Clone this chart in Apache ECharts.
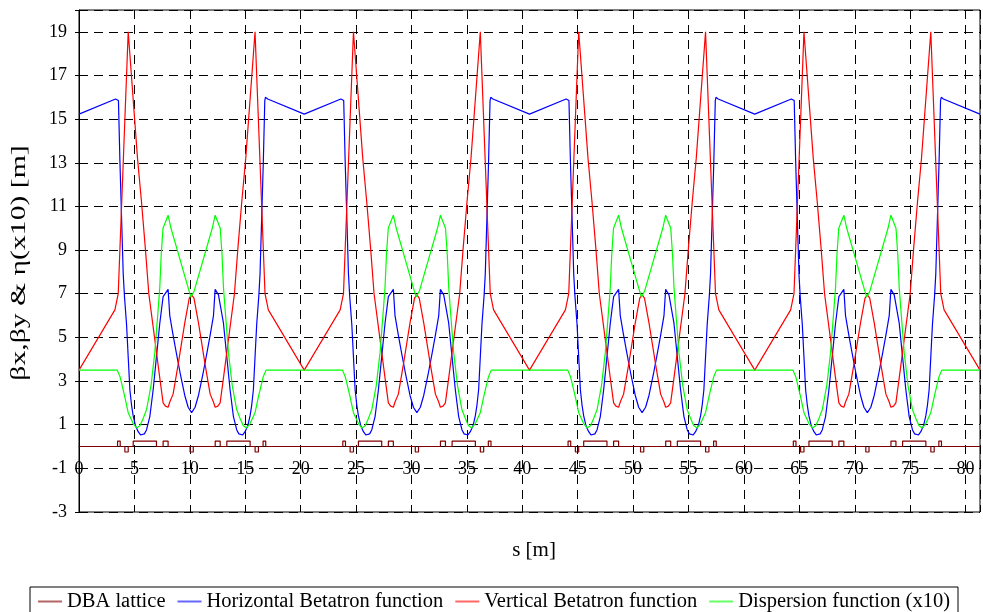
<!DOCTYPE html>
<html>
<head>
<meta charset="utf-8">
<script src="https://cdn.jsdelivr.net/npm/echarts@6/dist/echarts.min.js"></script>
<style>
  html, body { margin: 0; padding: 0; background: #fff; }
  #chart { width: 983px; height: 612px; }
</style>
</head>
<body>
<div id="chart"></div>
<script>
// Ring made of four identical DBA superperiods; optics listed for one superperiod (local s, m)
const CELL_STARTS = [0, 20.325, 40.65, 60.975];
const RING_LENGTH = 81.3;

// Horizontal betatron function
const BETA_X_S = [0, 3.30, 3.44, 3.50, 3.56, 3.69, 3.84, 3.99, 4.10, 4.29, 4.44, 4.59, 4.74, 4.89, 5.10,
  5.34, 5.55, 5.72, 5.90, 6.09, 6.39, 6.69, 6.99, 7.29, 7.59, 7.74, 8.04, 8.19, 8.49, 8.79, 9.15, 9.54, 9.85, 10.16,
  10.475, 10.785, 11.175, 11.535, 11.835, 12.135, 12.285, 12.585, 12.735, 13.035, 13.335, 13.635, 13.935, 14.235,
  14.425, 14.605, 14.775, 14.985, 15.225, 15.435, 15.585, 15.735, 15.885, 16.035, 16.225, 16.335, 16.485, 16.635,
  16.765, 16.825, 16.885, 17.025, 20.325];
const BETA_X = [15.23, 15.92, 16.0, 16.0, 15.85, 13.1, 10.5, 7.9, 6.9, 5.6, 4.1, 2.6, 1.9, 1.4, 0.95,
  0.68, 0.53, 0.5, 0.58, 0.76, 1.37, 2.59, 4.12, 5.65, 6.87, 6.95, 7.2, 6.0, 5.1, 4.27, 3.3, 2.35, 1.8, 1.55,
  1.8, 2.35, 3.3, 4.27, 5.1, 6.0, 7.2, 6.95, 6.87, 5.65, 4.12, 2.59, 1.37, 0.76,
  0.58, 0.5, 0.53, 0.68, 0.95, 1.4, 1.9, 2.6, 4.1, 5.6, 6.9, 7.9, 10.5, 13.1,
  15.85, 16.0, 16.0, 15.92, 15.23];

// Vertical betatron function
const BETA_Y_S = [0, 3.24, 3.54, 4.44, 5.28, 5.64, 6.0, 6.3, 6.84, 7.30, 7.59, 7.80, 8.04, 8.20, 8.49, 8.94,
  9.54, 9.95, 10.1625, 10.375, 10.785, 11.385, 11.835, 12.125, 12.285, 12.525, 12.735, 13.025, 13.485, 14.025,
  14.325, 14.685, 15.045, 15.885, 16.785, 17.085, 20.325];
const BETA_Y = [3.5, 6.26, 7.0, 19.0, 13.2, 11.2, 9.0, 7.0, 4.9, 3.1, 2.0, 1.85, 1.8, 2.05, 2.4, 3.74,
  5.65, 6.8, 6.95, 6.8, 5.65, 3.74, 2.4, 2.05, 1.8, 1.85, 2.0, 3.1, 4.9, 7.0,
  9.0, 11.2, 13.2, 19.0, 7.0, 6.26, 3.5];

// Dispersion function, scaled by 10
const ETA_S = [0, 3.45, 3.70, 4.10, 4.44, 4.89, 5.20, 5.50, 5.80, 6.10, 6.50, 6.84, 7.10, 7.29, 7.42, 7.58,
  8.04, 8.30, 9.95, 10.10, 10.225, 10.375, 12.025, 12.285, 12.745, 12.905, 13.035, 13.225, 13.485, 13.825,
  14.225, 14.525, 14.825, 15.125, 15.435, 15.885, 16.225, 16.625, 16.875, 20.325];
const ETA_X10 = [3.5, 3.5, 3.2, 2.35, 1.55, 1.05, 0.85, 0.95, 1.3, 1.7, 2.8, 4.3, 6.0, 7.3, 8.8, 10.0,
  10.6, 10.0, 7.1, 6.85, 6.85, 7.1, 10.0, 10.6, 10.0, 8.8, 7.3, 6.0, 4.3, 2.8,
  1.7, 1.3, 0.95, 0.85, 1.05, 1.55, 2.35, 3.2, 3.5, 3.5];

// Magnet layout of a superperiod: element start, end and symbol height (+ dipole / focusing, - defocusing)
const ELEMENT_START = [3.48, 4.14, 4.89, 7.59, 10.02, 12.29, 13.34, 15.89, 16.61];
const ELEMENT_END = [3.72, 4.44, 6.99, 8.04, 10.31, 12.74, 15.44, 16.19, 16.85];
const ELEMENT_HEIGHT = [0.25, -0.25, 0.25, 0.25, -0.25, 0.25, 0.25, -0.25, 0.25];

const SERIES_NAMES = ['DBA lattice', 'Horizontal Betatron function', 'Vertical Betatron function', 'Dispersion function (x10)'];
const SERIES_COLORS = ['#800000', '#0000ff', '#ff0000', '#00ff00'];

const Y_MIN = -3, Y_MAX = 20, Y_STEP = 2;
const Y_TICKS = [-3, -1, 1, 3, 5, 7, 9, 11, 13, 15, 17, 19];
const X_TICK_STEP = 5;

function ringPoints(sLocal, values) {
  const pts = [];
  CELL_STARTS.forEach(function (start) {
    sLocal.forEach(function (s, i) { pts.push([+(start + s).toFixed(4), values[i]]); });
  });
  return pts;
}

function latticePoints() {
  const pts = [[0, 0]];
  CELL_STARTS.forEach(function (start) {
    ELEMENT_START.forEach(function (a, i) {
      const s0 = +(start + a).toFixed(4), s1 = +(start + ELEMENT_END[i]).toFixed(4), h = ELEMENT_HEIGHT[i];
      pts.push([s0, 0], [s0, h], [s1, h], [s1, 0]);
    });
  });
  pts.push([RING_LENGTH, 0]);
  return pts;
}

const FONT = 'Liberation Serif';
const GRID = { left: 79, top: 10, right: 1, bottom: 100 };
const PLOT_HEIGHT = 612 - GRID.top - GRID.bottom;
// the s axis crosses the vertical axis at zero
const X_AXIS_LIFT = PLOT_HEIGHT * (0 - Y_MIN) / (Y_MAX - Y_MIN);

const chart = echarts.init(document.getElementById('chart'), null, { renderer: 'canvas' });

const dataSets = [latticePoints(), ringPoints(BETA_X_S, BETA_X), ringPoints(BETA_Y_S, BETA_Y), ringPoints(ETA_S, ETA_X10)];

chart.setOption({
  animation: false,
  backgroundColor: '#fff',
  grid: Object.assign({ show: true, borderColor: '#000', borderWidth: 1, backgroundColor: 'transparent' }, GRID),
  xAxis: {
    type: 'value', min: 0, max: RING_LENGTH, interval: X_TICK_STEP,
    position: 'bottom', offset: -X_AXIS_LIFT,
    axisLine: { show: true, onZero: false, lineStyle: { color: '#000', width: 1 } },
    axisTick: { show: false },
    axisLabel: {
      color: '#000', fontFamily: FONT, fontSize: 18, margin: 14,
      formatter: function (v) { return Math.abs(v / X_TICK_STEP - Math.round(v / X_TICK_STEP)) < 1e-6 ? String(v) : ''; }
    },
    splitLine: { show: true, lineStyle: { color: '#000', type: [9, 6], width: 1 } }
  },
  yAxis: {
    type: 'value', min: Y_MIN, max: Y_MAX, interval: Y_STEP,
    axisLine: { show: true, onZero: false, lineStyle: { color: '#000', width: 1 } },
    axisTick: { show: true, length: 4, lineStyle: { color: '#000' } },
    axisLabel: {
      color: '#000', fontFamily: FONT, fontSize: 18, margin: 12,
      formatter: function (v) { return Y_TICKS.indexOf(v) >= 0 ? String(v) : ''; }
    },
    splitLine: { show: true, lineStyle: { color: '#000', type: [9, 6], width: 1 } }
  },
  legend: {
    left: 30, top: 587, orient: 'horizontal',
    icon: 'rect', itemWidth: 24, itemHeight: 2, itemGap: 12,
    padding: [4, 8, 4, 8],
    borderColor: '#000', borderWidth: 1, backgroundColor: '#fff',
    itemStyle: { opacity: 0.6 },
    textStyle: { color: '#000', fontFamily: FONT, fontSize: 20.5 },
    data: SERIES_NAMES
  },
  graphic: [{
    type: 'text', x: 534, y: 550,
    style: { text: 's [m]', fill: '#000', font: '21px "Liberation Serif"', align: 'center', verticalAlign: 'middle' }
  }, {
    type: 'text', x: 19, y: 263, rotation: Math.PI / 2, scaleX: 1.35,
    style: { text: 'βx,βy & η(x10) [m]', fill: '#000', font: '22px "Liberation Serif"', align: 'center', verticalAlign: 'middle' }
  }],
  series: dataSets.map(function (d, i) {
    return {
      name: SERIES_NAMES[i], type: 'line', data: d,
      showSymbol: false, symbol: 'none', smooth: false,
      lineStyle: { color: SERIES_COLORS[i], width: 1.2 },
      itemStyle: { color: SERIES_COLORS[i] },
      z: 2 + i
    };
  })
});
</script>
</body>
</html>
